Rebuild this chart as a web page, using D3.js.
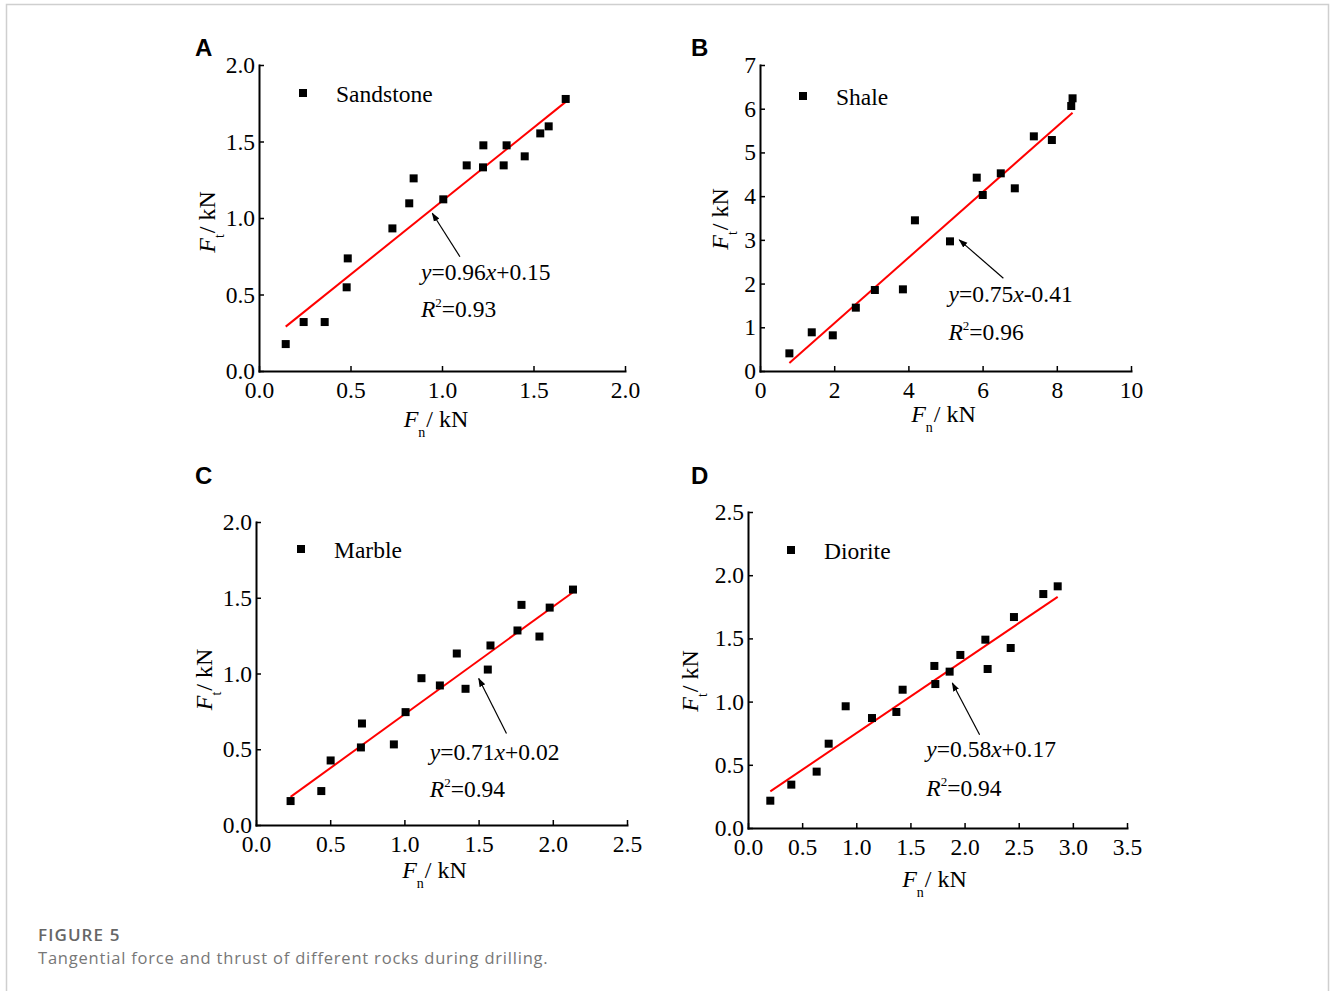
<!DOCTYPE html>
<html>
<head>
<meta charset="utf-8">
<script src="https://cdn.jsdelivr.net/npm/d3@7/dist/d3.min.js"></script>
<style>
  body { margin: 0; background: #fff; }
  svg text { font-family: "Liberation Serif", "Times New Roman", serif; }
</style>
</head>
<body>
<svg id="fig" width="1330" height="991"></svg>
<script>
// ---- data ----
const rockNames = ['Sandstone', 'Shale', 'Marble', 'Diorite'];
const panelLetters = ['A', 'B', 'C', 'D'];

const sandstoneFn = [0.146, 0.244, 0.359, 0.479, 0.485, 0.729, 0.821, 0.845, 1.007, 1.135, 1.224, 1.226, 1.337, 1.353, 1.452, 1.537, 1.583, 1.676];
const sandstoneFt = [0.176, 0.320, 0.320, 0.547, 0.736, 0.932, 1.096, 1.259, 1.122, 1.344, 1.331, 1.475, 1.344, 1.475, 1.403, 1.553, 1.599, 1.778];

const shaleFn = [0.792, 1.395, 1.962, 2.583, 3.096, 3.852, 4.176, 5.121, 5.842, 6.004, 6.490, 6.868, 7.381, 7.867, 8.389, 8.425];
const shaleFt = [0.404, 0.885, 0.816, 1.449, 1.853, 1.868, 3.447, 2.966, 4.423, 4.026, 4.522, 4.179, 5.368, 5.284, 6.062, 6.238];

const marbleFn = [0.233, 0.440, 0.503, 0.707, 0.714, 0.929, 1.008, 1.115, 1.239, 1.353, 1.412, 1.562, 1.580, 1.762, 1.789, 1.910, 1.979, 2.136];
const marbleFt = [0.158, 0.224, 0.426, 0.512, 0.670, 0.532, 0.745, 0.969, 0.921, 1.132, 0.899, 1.026, 1.185, 1.284, 1.453, 1.244, 1.435, 1.554];

const dioriteFn = [0.206, 0.400, 0.634, 0.745, 0.902, 1.145, 1.370, 1.428, 1.721, 1.730, 1.862, 1.961, 2.192, 2.213, 2.426, 2.456, 2.727, 2.860];
const dioriteFt = [0.216, 0.343, 0.446, 0.667, 0.963, 0.870, 0.918, 1.094, 1.282, 1.139, 1.237, 1.369, 1.490, 1.258, 1.424, 1.669, 1.851, 1.912];

// linear fits printed on the figure
const fitSlope = [0.96, 0.75, 0.71, 0.58];
const fitIntercept = [0.15, -0.41, 0.02, 0.17];
const fitR2 = ['0.93', '0.96', '0.94', '0.94'];

// tick labels
const sandstoneXTicks = [0, 0.5, 1.0, 1.5, 2.0];
const sandstoneYTicks = [0, 0.5, 1.0, 1.5, 2.0];
const shaleXTicks = [0, 2, 4, 6, 8, 10];
const shaleYTicks = [0, 1, 2, 3, 4, 5, 6, 7];
const marbleXTicks = [0, 0.5, 1.0, 1.5, 2.0, 2.5];
const marbleYTicks = [0, 0.5, 1.0, 1.5, 2.0];
const dioriteXTicks = [0, 0.5, 1.0, 1.5, 2.0, 2.5, 3.0, 3.5];
const dioriteYTicks = [0, 0.5, 1.0, 1.5, 2.0, 2.5];

// annotation anchors in data units: [eqX, eqY, r2Y, arrowTailX, arrowTailY, arrowHeadX, arrowHeadY]
const annotA = [0.885, 0.595, 0.351, 1.098, 0.747, 0.947, 1.031];
const annotB = [5.08, 1.586, 0.709, 6.56, 2.12, 5.37, 3.00];
const annotC = [1.171, 0.429, 0.182, 1.688, 0.604, 1.501, 0.967];
const annotD = [1.647, 0.559, 0.251, 2.139, 0.738, 1.887, 1.147];

// ---- layout ----
const panels = [
  { fn: sandstoneFn, ft: sandstoneFt, xt: sandstoneXTicks, yt: sandstoneYTicks, an: annotA, fmt: '.1f',
    box: { l: 259, r: 625, t: 65, b: 371 }, letter: [195, 56], leg: [44, 28], xTitle: [-6, 56], yTitle: [44, 4] },
  { fn: shaleFn, ft: shaleFt, xt: shaleXTicks, yt: shaleYTicks, an: annotB, fmt: 'd',
    box: { l: 760, r: 1131, t: 65, b: 371 }, letter: [691, 56], leg: [43, 31], xTitle: [-2, 51], yTitle: [32, 1] },
  { fn: marbleFn, ft: marbleFt, xt: marbleXTicks, yt: marbleYTicks, an: annotC, fmt: '.1f',
    box: { l: 256, r: 627, t: 522, b: 825 }, letter: [195, 484], leg: [45, 27], xTitle: [-7, 53], yTitle: [44, 6] },
  { fn: dioriteFn, ft: dioriteFt, xt: dioriteXTicks, yt: dioriteYTicks, an: annotD, fmt: '.1f',
    box: { l: 748, r: 1127, t: 512, b: 828 }, letter: [691, 484], leg: [43, 38], xTitle: [-3, 59], yTitle: [50, 11] }
];

const svg = d3.select('#fig');
const SQ = 8;

// arrow head
svg.append('defs').append('marker')
  .attr('id', 'arrow')
  .attr('viewBox', '0 0 10 10')
  .attr('refX', 9).attr('refY', 5)
  .attr('markerWidth', 9).attr('markerHeight', 9)
  .attr('markerUnits', 'userSpaceOnUse')
  .attr('orient', 'auto')
  .append('path')
  .attr('d', 'M0,1.5 L10,5 L0,8.5 Z')
  .attr('fill', '#000');

// light frame around the figure
svg.append('path')
  .attr('d', 'M6.5,991 V4.5 H1328.5 V991')
  .attr('fill', 'none')
  .attr('stroke', '#cfcfcf')
  .attr('stroke-width', 1.5);

function styleAxis(sel) {
  sel.select('.domain').attr('stroke', '#000').attr('stroke-width', 2).attr('stroke-linecap', 'square');
  sel.selectAll('.tick line').attr('stroke', '#000').attr('stroke-width', 1.5);
  sel.selectAll('.tick text')
    .attr('fill', '#000')
    .attr('font-size', 23.5)
    .attr('font-family', '"Liberation Serif", "Times New Roman", serif');
}

function drawPanel(p, i) {
  const x = d3.scaleLinear().domain(d3.extent(p.xt)).range([p.box.l, p.box.r]);
  const y = d3.scaleLinear().domain(d3.extent(p.yt)).range([p.box.b, p.box.t]);
  const g = svg.append('g').attr('class', 'panel');

  // axes, ticks pointing inward
  g.append('g')
    .attr('transform', `translate(0,${p.box.b})`)
    .call(d3.axisBottom(x).tickValues(p.xt).tickFormat(d3.format(p.fmt))
      .tickSizeInner(-5).tickSizeOuter(0).tickPadding(10))
    .call(styleAxis);

  g.append('g')
    .attr('transform', `translate(${p.box.l},0)`)
    .call(d3.axisLeft(y).tickValues(p.yt).tickFormat(d3.format(p.fmt))
      .tickSizeInner(-5).tickSizeOuter(0).tickPadding(4))
    .call(styleAxis);

  // panel letter
  g.append('text')
    .attr('x', p.letter[0]).attr('y', p.letter[1])
    .style('font-family', '"Liberation Sans", Arial, sans-serif')
    .style('font-weight', 'bold')
    .style('font-size', '24px')
    .text(panelLetters[i]);

  // x title F_n / kN
  const xt = g.append('text')
    .attr('x', (p.box.l + p.box.r) / 2 + p.xTitle[0])
    .attr('y', p.box.b + p.xTitle[1])
    .attr('text-anchor', 'middle')
    .style('font-size', '24px');
  xt.append('tspan').style('font-style', 'italic').text('F');
  xt.append('tspan').attr('dy', 10).style('font-size', '14px').text('n');
  xt.append('tspan').attr('dy', -10).attr('dx', 1).text('/ kN');

  // y title F_t / kN
  const yt = g.append('text')
    .attr('transform', `translate(${p.box.l - p.yTitle[0]},${(p.box.t + p.box.b) / 2 + p.yTitle[1]}) rotate(-90)`)
    .attr('text-anchor', 'middle')
    .style('font-size', '24px');
  yt.append('tspan').style('font-style', 'italic').text('F');
  yt.append('tspan').attr('dy', 9).style('font-size', '14px').text('t');
  yt.append('tspan').attr('dy', -9).attr('dx', 1).text('/ kN');

  // fit line over the data range
  const xr = d3.extent(p.fn);
  const fitLine = d3.line()
    .x(d => x(d))
    .y(d => y(fitSlope[i] * d + fitIntercept[i]));
  g.append('path')
    .attr('d', fitLine(xr))
    .attr('fill', 'none')
    .attr('stroke', '#ff0000')
    .attr('stroke-width', 2);

  // points
  g.selectAll('rect.pt')
    .data(p.fn.map((v, k) => [v, p.ft[k]]))
    .join('rect')
    .attr('class', 'pt')
    .attr('x', d => x(d[0]) - SQ / 2)
    .attr('y', d => y(d[1]) - SQ / 2)
    .attr('width', SQ).attr('height', SQ)
    .attr('fill', '#000');

  // legend
  const lx = p.box.l + p.leg[0], ly = p.box.t + p.leg[1];
  g.append('rect')
    .attr('x', lx - SQ / 2).attr('y', ly - SQ / 2)
    .attr('width', SQ).attr('height', SQ)
    .attr('fill', '#000');
  g.append('text')
    .attr('x', lx + 33).attr('y', ly + 9)
    .style('font-size', '23.5px')
    .text(rockNames[i]);

  // equation and R^2
  const a = p.an;
  const eq = g.append('text')
    .attr('x', x(a[0])).attr('y', y(a[1]))
    .style('font-size', '23.5px');
  const sign = fitIntercept[i] < 0 ? '-' : '+';
  eq.append('tspan').style('font-style', 'italic').text('y');
  eq.append('tspan').text('=' + fitSlope[i].toFixed(2));
  eq.append('tspan').style('font-style', 'italic').text('x');
  eq.append('tspan').text(sign + Math.abs(fitIntercept[i]).toFixed(2));

  const r2 = g.append('text')
    .attr('x', x(a[0])).attr('y', y(a[2]))
    .style('font-size', '23.5px');
  r2.append('tspan').style('font-style', 'italic').text('R');
  r2.append('tspan').attr('dy', -10).style('font-size', '13px').text('2');
  r2.append('tspan').attr('dy', 10).text('=' + fitR2[i]);

  // arrow pointing at the fit line
  g.append('line')
    .attr('x1', x(a[3])).attr('y1', y(a[4]))
    .attr('x2', x(a[5])).attr('y2', y(a[6]))
    .attr('stroke', '#000')
    .attr('stroke-width', 1.2)
    .attr('marker-end', 'url(#arrow)');
}

panels.forEach(drawPanel);

// caption
svg.append('text')
  .attr('x', 38).attr('y', 941)
  .style('font-family', '"Open Sans", "Noto Sans", sans-serif')
  .style('font-weight', 600)
  .style('font-size', '17px')
  .style('letter-spacing', '1.1px')
  .attr('fill', '#666')
  .text('FIGURE 5');
svg.append('text')
  .attr('x', 38).attr('y', 964)
  .style('font-family', '"Open Sans", "Noto Sans", sans-serif')
  .style('font-size', '16.5px')
  .style('letter-spacing', '0.8px')
  .attr('fill', '#777')
  .text('Tangential force and thrust of different rocks during drilling.');
</script>
</body>
</html>
